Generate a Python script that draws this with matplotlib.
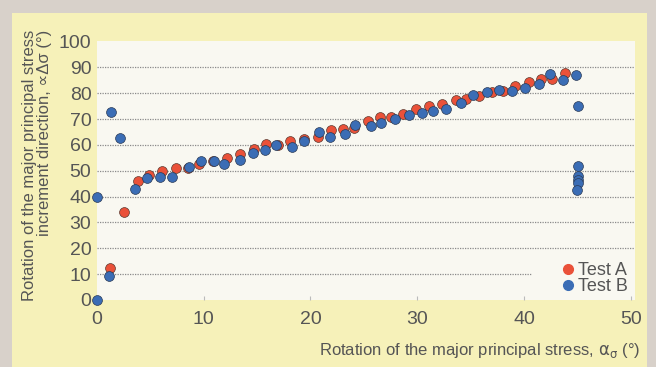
import matplotlib.pyplot as plt
from matplotlib.patches import Rectangle
from matplotlib.lines import Line2D

# Test A (red) and Test B (blue): rotation of stress vs. rotation of strain increment
test_a_x = [1.2, 2.5, 3.8, 4.9, 6.1, 7.4, 8.5, 9.6, 10.9, 12.2, 13.4, 14.7, 15.8,
            17.0, 18.1, 19.4, 20.7, 21.9, 23.0, 24.1, 25.4, 26.5, 27.5, 28.7, 29.9,
            31.1, 32.3, 33.6, 34.6, 35.8, 37.0, 38.0, 39.2, 40.5, 41.6, 42.6, 43.8]
test_a_y = [12.2, 34.1, 45.9, 48.5, 50.0, 51.0, 51.0, 52.6, 53.6, 54.9, 56.5, 58.5, 60.3,
            59.9, 61.5, 62.4, 63.2, 65.8, 66.2, 66.4, 69.2, 70.9, 70.7, 71.8, 73.9,
            75.1, 76.0, 77.3, 77.7, 79.0, 80.3, 80.9, 82.8, 84.3, 85.4, 85.6, 88.0]

test_b_x = [0.0, 0.0, 1.15, 1.3, 2.15, 3.55, 4.7, 5.9, 7.0, 8.6, 9.7, 11.0, 11.9,
            13.4, 14.6, 15.7, 16.8, 18.3, 19.4, 20.8, 21.8, 23.2, 24.2, 25.7, 26.6,
            27.9, 29.2, 30.4, 31.5, 32.7, 34.1, 35.2, 36.5, 37.7, 38.9, 40.1, 41.4,
            42.4, 43.7, 44.9, 45.1, 45.1, 45.1, 45.1, 45.1, 45.0]
test_b_y = [0.0, 40.0, 9.1, 72.8, 62.6, 43.0, 47.2, 47.4, 47.4, 51.5, 53.8, 53.6, 52.7,
            54.2, 56.8, 58.1, 59.8, 59.3, 61.7, 65.1, 63.2, 64.3, 67.7, 67.3, 68.3,
            69.9, 71.5, 72.4, 73.2, 73.8, 76.4, 79.5, 80.5, 81.2, 80.8, 82.2, 83.7,
            87.6, 85.3, 87.2, 75.0, 52.0, 47.8, 46.5, 45.3, 42.7]

x_ticks = [0, 10, 20, 30, 40, 50]
y_ticks = [0, 10, 20, 30, 40, 50, 60, 70, 80, 90, 100]

red = '#ea5139'
blue = '#3b6db5'
text_grey = '#555555'
fonts = ['Liberation Sans Narrow', 'Liberation Sans', 'DejaVu Sans']
plt.rcParams['font.family'] = fonts

fig = plt.figure(figsize=(6.56, 3.67), dpi=100)
fig.patch.set_facecolor('#d8d1ca')
# yellow panel behind the chart
fig.patches.append(Rectangle((12 / 656, 0), 635 / 656, 1 - 13 / 367,
                             transform=fig.transFigure, facecolor='#f6f1b9',
                             edgecolor='none', zorder=-1))

ax = fig.add_axes([97 / 656, 1 - 300 / 367, 538 / 656, 259 / 367])
ax.set_zorder(2)
ax.set_facecolor('#f9f8f1')
ax.set_xlim(0, 50.4)
ax.set_ylim(0, 100.2)
for s in ax.spines.values():
    s.set_visible(False)

# dotted grid lines (the one at 10 stops short of the legend)
for yv in y_ticks[1:-1]:
    x_end = 40.7 if yv == 10 else 50.4
    ax.hlines(yv, 0, x_end, colors='#8a8a8a', linestyles=(0, (1, 1)), linewidth=0.9, zorder=1)

ax.scatter(test_a_x, test_a_y, s=50, color=red, edgecolors='#5a3a30', linewidths=0.5,
           zorder=3, clip_on=False)
ax.scatter(test_b_x, test_b_y, s=50, color=blue, edgecolors='#2a3a55', linewidths=0.5,
           zorder=4, clip_on=False)

ax.set_xticks(x_ticks)
ax.set_yticks(y_ticks)
ax.tick_params(axis='x', direction='in', length=3, color='#bbbbbb', labelsize=14,
               labelcolor=text_grey, pad=8)
ax.tick_params(axis='y', length=0, labelsize=14, labelcolor=text_grey, pad=4)

ax.set_xlabel(r'Rotation of the major principal stress, $\mathrm{\alpha_\sigma}$ (°)', fontsize=12,
              color=text_grey, ha='right')
ax.xaxis.set_label_coords(543 / 538, -0.157)
fig.text(37 / 656, 1 - 30 / 367,
         'Rotation of the major principal stress\nincrement direction, \u221d\u0394\u03c3 (°)',
         rotation=90, ha='center', va='top', multialignment='right', fontsize=12,
         color=text_grey, linespacing=1.05)

handles = [Line2D([], [], marker='o', linestyle='none', color=red, markersize=7),
           Line2D([], [], marker='o', linestyle='none', color=blue, markersize=7)]
ax.legend(handles, ['Test A', 'Test B'], loc='lower right', bbox_to_anchor=(1.0, -0.01),
          frameon=False, fontsize=13, handletextpad=0.05, labelspacing=-0.05,
          borderaxespad=0.0, labelcolor=text_grey, handlelength=1.0)

fig.savefig('out.png', dpi=100, facecolor=fig.get_facecolor())
